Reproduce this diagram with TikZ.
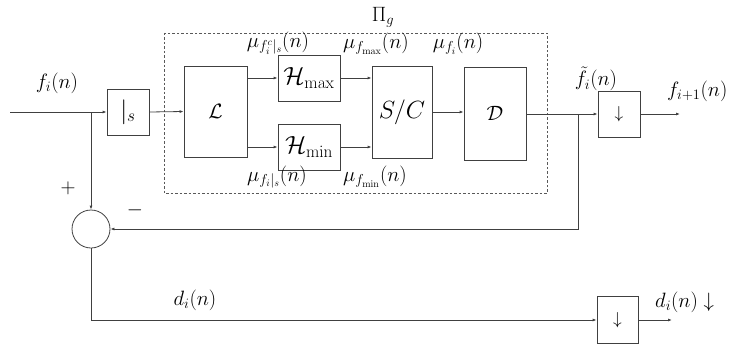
\documentclass[tikz,border=0pt]{standalone}
\usetikzlibrary{arrows.meta}
\begin{document}
\begin{tikzpicture}[x=1pt,y=-1pt,
  blk/.style={draw=black!75,line width=0.8pt,inner sep=0pt,font=\fontsize{21}{25}\selectfont},
  con/.style={draw=black!75,line width=0.8pt},
  arr/.style={con,-{Latex[length=4pt,width=3pt]}},
  lab/.style={inner sep=0pt,font=\fontsize{20}{24}\selectfont},
  biglab/.style={inner sep=0pt,font=\fontsize{21}{25}\selectfont}]
\useasboundingbox (0,0) rectangle (730,345);
% dashed group
\draw[black!65,line width=0.8pt,dash pattern=on 2.5pt off 2pt] (164,33) rectangle (547,193);
% blocks
\node[blk,minimum width=42pt,minimum height=46pt,font=\fontsize{24}{28}\selectfont] (s) at (128,112) {$|_s$};
\node[blk,minimum width=63pt,minimum height=91pt] (L) at (215.5,111.5) {$\mathcal{L}$};
\node[blk,minimum width=62pt,minimum height=46pt,font=\fontsize{25}{29}\selectfont] (Hmax) at (309,78) {$\mathcal{H}_{\mathrm{max}}$};
\node[blk,minimum width=62pt,minimum height=46pt,font=\fontsize{25}{29}\selectfont] (Hmin) at (309,147) {$\mathcal{H}_{\mathrm{min}}$};
\node[blk,minimum width=60pt,minimum height=92pt,font=\fontsize{24}{28}\selectfont] (SC) at (402,112) {$S/C$};
\node[blk,minimum width=62pt,minimum height=93pt] (D) at (495,113.5) {$\mathcal{D}$};
\node[blk,minimum width=42pt,minimum height=46pt,font=\fontsize{19}{23}\selectfont] (dn1) at (619,114) {$\downarrow$};
\node[blk,minimum width=41pt,minimum height=47pt,font=\fontsize{19}{23}\selectfont] (dn2) at (617.5,320) {$\downarrow$};
\node[blk,circle,minimum size=38pt] (sum) at (91,229) {};
% coordinates
\coordinate (in) at (10,112);
\coordinate (j1) at (91,112);
\coordinate (j2) at (578,114);
\coordinate (out1) at (680,114);
\coordinate (corner) at (91,320);
\coordinate (out2) at (672,320);
% connectors
\draw[con] (in) -- (j1);
\draw[arr] (j1) -- (s.west);
\draw[arr] (s.east) -- (L.west);
\draw[arr] (L.east |- Hmax.west) -- (Hmax.west);
\draw[arr] (L.east |- Hmin.west) -- (Hmin.west);
\draw[arr] (Hmax.east) -- (SC.west |- Hmax.east);
\draw[arr] (Hmin.east) -- (SC.west |- Hmin.east);
\draw[arr] (SC.east) -- (D.west |- SC.east);
\draw[con] (D.east |- j2) -- (j2);
\draw[arr] (j2) -- (dn1.west);
\draw[arr] (dn1.east) -- (out1);
\draw[arr] (j2) |- (sum.east);
\draw[arr] (j1) -- (sum.north);
\draw[con] (sum.south) -- (corner);
\draw[arr] (corner) -- (dn2.west);
\draw[arr] (dn2.east) -- (out2);
% labels
\node[biglab] (lfi) at (57,83) {$f_i(n)$};
\node[biglab] (lpi) at (383,17) {$\Pi_g$};
\node[lab] (l1) at (278,43) {$\mu_{f_i^c|_s}(n)$};
\node[lab] (l2) at (376,44) {$\mu_{f_{\mathrm{max}}}(n)$};
\node[lab] (l3) at (458,44) {$\mu_{f_i}(n)$};
\node[lab] (l4) at (277,177) {$\mu_{f_i|_s}(n)$};
\node[lab] (l5) at (375,177) {$\mu_{f_{\mathrm{min}}}(n)$};
\node[biglab] (lft) at (596,79) {$\tilde f_i(n)$};
\node[biglab,anchor=west] (lfo) at (667,91) {$f_{i+1}(n)$};
\node[biglab] (lp) at (68,188) {$+$};
\node[biglab] (lm) at (135,210) {$-$};
\node[biglab] (ld) at (195,300) {$d_i(n)$};
\node[biglab,anchor=west] (ldo) at (655,302) {$d_i(n)\downarrow$};
\end{tikzpicture}
\end{document}
